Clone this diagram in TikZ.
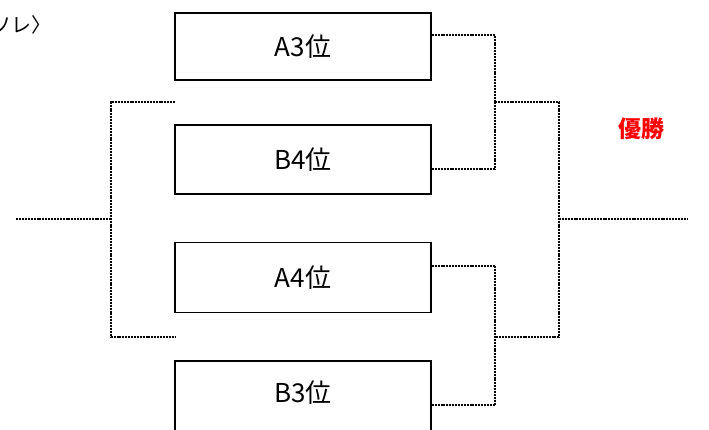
\documentclass[tikz,border=0pt]{standalone}
\usepackage{fontspec}
\newfontfamily\jp{Noto Sans CJK JP}
\begin{document}
\begin{tikzpicture}[x=1pt,y=-1pt,
  lbl/.style={font=\jp\fontsize{26}{30}\selectfont,inner sep=0pt},
  box/.style={draw=black,line width=1.6pt,minimum width=256pt,inner sep=0pt,font=\jp\fontsize{26}{30}\selectfont},
  dotline/.style={draw=black,line width=1.7pt,dash pattern=on 2pt off 0.9pt}]
\useasboundingbox (0,0) rectangle (709,430);
\clip (0,0) rectangle (709,430);
\fill[white] (0,0) rectangle (709,430);
% boxes
\node[box,minimum height=67pt] (b1) at (303,46.5) {A3位};
\node[box,minimum height=69pt] (b2) at (303,159.5) {B4位};
\node[box,minimum height=70pt] (b3) at (303,277.5) {A4位};
\node[box,minimum height=71pt,label={[lbl,yshift=3.5pt]center:B3位}] (b4) at (303,396.5) {};
% junction coordinates
\coordinate (jA) at (495,102);
\coordinate (jB) at (495,337);
\coordinate (jF) at (559,219);
\coordinate (outR) at (687,219);
\coordinate (lT) at (175,102);
\coordinate (lB) at (175,337);
\coordinate (lJ) at (111,219);
\coordinate (outL) at (16,219);
% right bracket
\draw[dotline] ([yshift=-23pt]b1.north east) -| (jA) |- ([yshift=-45pt]b2.north east);
\draw[dotline] ([yshift=-24pt]b3.north east) -| (jB) |- ([yshift=-45pt]b4.north east);
\draw[dotline] (jA) -| (jF) |- (jB);
\draw[dotline] (jF) -- (outR);
% left bracket
\draw[dotline] (lT) -| (lJ) |- (lB);
\draw[dotline] (lJ) -- (outL);
% texts
\node[font=\jp\bfseries\fontsize{23}{27}\selectfont,text=red,inner sep=0pt] (win) at (641,129) {優勝};
\node[font=\jp\fontsize{20}{24}\selectfont,anchor=west,inner sep=0pt] (cap) at (-9,25) {ソレ〉};
\end{tikzpicture}
\end{document}
